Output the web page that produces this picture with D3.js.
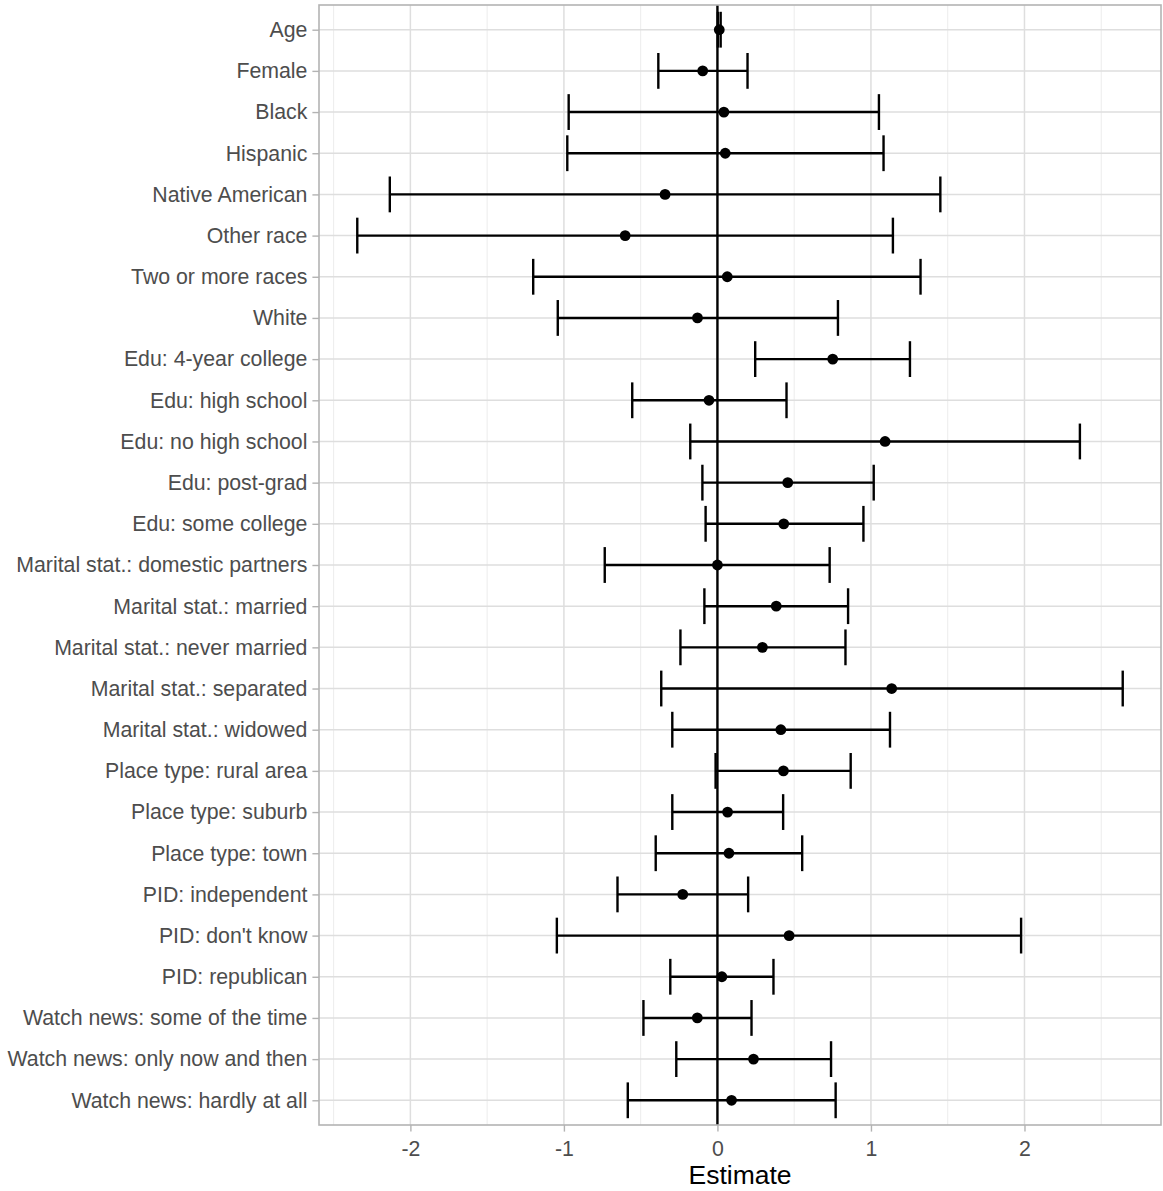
<!DOCTYPE html>
<html>
<head>
<meta charset="utf-8">
<script src="https://cdn.jsdelivr.net/npm/d3@7"></script>
<style>
  html, body { margin: 0; padding: 0; background: #fff; }
  svg { display: block; font-family: "Liberation Sans", Arial, sans-serif; }
</style>
</head>
<body>
<svg id="chart" width="1163" height="1191"></svg>
<script>
// Regression terms, top to bottom
const terms = [
  "Age", "Female", "Black", "Hispanic", "Native American", "Other race",
  "Two or more races", "White", "Edu: 4-year college", "Edu: high school",
  "Edu: no high school", "Edu: post-grad", "Edu: some college",
  "Marital stat.: domestic partners", "Marital stat.: married",
  "Marital stat.: never married", "Marital stat.: separated",
  "Marital stat.: widowed", "Place type: rural area", "Place type: suburb",
  "Place type: town", "PID: independent", "PID: don't know", "PID: republican",
  "Watch news: some of the time", "Watch news: only now and then",
  "Watch news: hardly at all"
];

// Point estimates
const estimate = [
  0.012, -0.096, 0.042, 0.051, -0.341, -0.601,
  0.064, -0.130, 0.751, -0.055,
  1.092, 0.458, 0.432,
  0.000, 0.383,
  0.293, 1.135,
  0.413, 0.430, 0.066,
  0.075, -0.226, 0.467, 0.029,
  -0.131, 0.235,
  0.092
];

// Lower bounds of the confidence intervals
const lower = [
  0.003, -0.385, -0.969, -0.978, -2.134, -2.346,
  -1.200, -1.040, 0.246, -0.555,
  -0.177, -0.098, -0.077,
  -0.734, -0.085,
  -0.241, -0.366,
  -0.294, -0.012, -0.294,
  -0.402, -0.651, -1.046, -0.307,
  -0.482, -0.268,
  -0.584
];

// Upper bounds of the confidence intervals
const upper = [
  0.021, 0.196, 1.052, 1.082, 1.452, 1.143,
  1.323, 0.785, 1.254, 0.450,
  2.361, 1.018, 0.951,
  0.731, 0.851,
  0.834, 2.640,
  1.124, 0.868, 0.428,
  0.552, 0.200, 1.978, 0.365,
  0.222, 0.740,
  0.770
];

const xTicks = [-2, -1, 0, 1, 2];
const xTickLabels = ["-2", "-1", "0", "1", "2"];
const xMinor = [-2.5, -1.5, -0.5, 0.5, 1.5, 2.5];
const xTitle = "Estimate";

const rows = terms.map((t, i) => ({ term: t, est: estimate[i], lo: lower[i], hi: upper[i] }));

const svg = d3.select("#chart");
const panel = { left: 319, right: 1161, top: 5, bottom: 1125 };

// Continuous axis with 5% expansion on each side
const lo = d3.min(lower), hi = d3.max(upper);
const pad = (hi - lo) * 0.05;
const x = d3.scaleLinear().domain([lo - pad, hi + pad]).range([panel.left, panel.right]);

// Discrete axis, 0.6 step padding at both ends
const y = d3.scalePoint().domain(terms).range([panel.top, panel.bottom]).padding(0.6);
const step = y.step();

// Background
svg.append("rect")
  .attr("x", panel.left).attr("y", panel.top)
  .attr("width", panel.right - panel.left).attr("height", panel.bottom - panel.top)
  .attr("fill", "#fff");

// Grid: minor verticals, major verticals, horizontal lines
const grid = svg.append("g");
grid.selectAll("line.minor").data(xMinor.filter(v => x(v) > panel.left && x(v) < panel.right))
  .join("line").attr("class", "minor")
  .attr("x1", d => x(d)).attr("x2", d => x(d))
  .attr("y1", panel.top).attr("y2", panel.bottom)
  .attr("stroke", "#ececec").attr("stroke-width", 1);
grid.selectAll("line.majx").data(xTicks)
  .join("line").attr("class", "majx")
  .attr("x1", d => x(d)).attr("x2", d => x(d))
  .attr("y1", panel.top).attr("y2", panel.bottom)
  .attr("stroke", "#dedede").attr("stroke-width", 1.5);
grid.selectAll("line.majy").data(terms)
  .join("line").attr("class", "majy")
  .attr("x1", panel.left).attr("x2", panel.right)
  .attr("y1", d => y(d)).attr("y2", d => y(d))
  .attr("stroke", "#dedede").attr("stroke-width", 1.5);

// Reference line at zero
svg.append("line")
  .attr("x1", x(0)).attr("x2", x(0))
  .attr("y1", panel.top).attr("y2", panel.bottom)
  .attr("stroke", "#000").attr("stroke-width", 2.4);

// Error bars
const capH = step * 0.87;
const bars = svg.append("g").selectAll("g").data(rows).join("g")
  .attr("stroke", "#000").attr("stroke-width", 2.4).attr("fill", "none");
bars.append("line")
  .attr("x1", d => x(d.lo)).attr("x2", d => x(d.hi))
  .attr("y1", d => y(d.term)).attr("y2", d => y(d.term));
bars.append("line")
  .attr("x1", d => x(d.lo)).attr("x2", d => x(d.lo))
  .attr("y1", d => y(d.term) - capH / 2).attr("y2", d => y(d.term) + capH / 2);
bars.append("line")
  .attr("x1", d => x(d.hi)).attr("x2", d => x(d.hi))
  .attr("y1", d => y(d.term) - capH / 2).attr("y2", d => y(d.term) + capH / 2);

// Point estimates
svg.append("g").selectAll("circle").data(rows).join("circle")
  .attr("cx", d => x(d.est)).attr("cy", d => y(d.term))
  .attr("r", 5.4).attr("fill", "#000");

// Panel border
svg.append("rect")
  .attr("x", panel.left).attr("y", panel.top)
  .attr("width", panel.right - panel.left).attr("height", panel.bottom - panel.top)
  .attr("fill", "none").attr("stroke", "#b3b3b3").attr("stroke-width", 1.6);

// Axes
const xAxis = svg.append("g")
  .attr("transform", `translate(0,${panel.bottom})`)
  .call(d3.axisBottom(x).tickValues(xTicks)
    .tickFormat((d, i) => xTickLabels[i]).tickSize(6.6).tickPadding(5));
const yAxis = svg.append("g")
  .attr("transform", `translate(${panel.left},0)`)
  .call(d3.axisLeft(y).tickSize(6.6).tickPadding(5));

[xAxis, yAxis].forEach(a => {
  a.select(".domain").remove();
  a.selectAll(".tick line").attr("stroke", "#b3b3b3").attr("stroke-width", 1.4);
  a.selectAll(".tick text")
    .attr("fill", "#4d4d4d")
    .style("font-size", "21.3px")
    .style("font-family", "'Liberation Sans', Arial, sans-serif");
});
xAxis.selectAll(".tick text").attr("dy", "0.9em");

// Axis title
svg.append("text")
  .attr("x", (panel.left + panel.right) / 2)
  .attr("y", 1184)
  .attr("text-anchor", "middle")
  .attr("fill", "#000")
  .style("font-size", "26.5px")
  .text(xTitle);
</script>
</body>
</html>
